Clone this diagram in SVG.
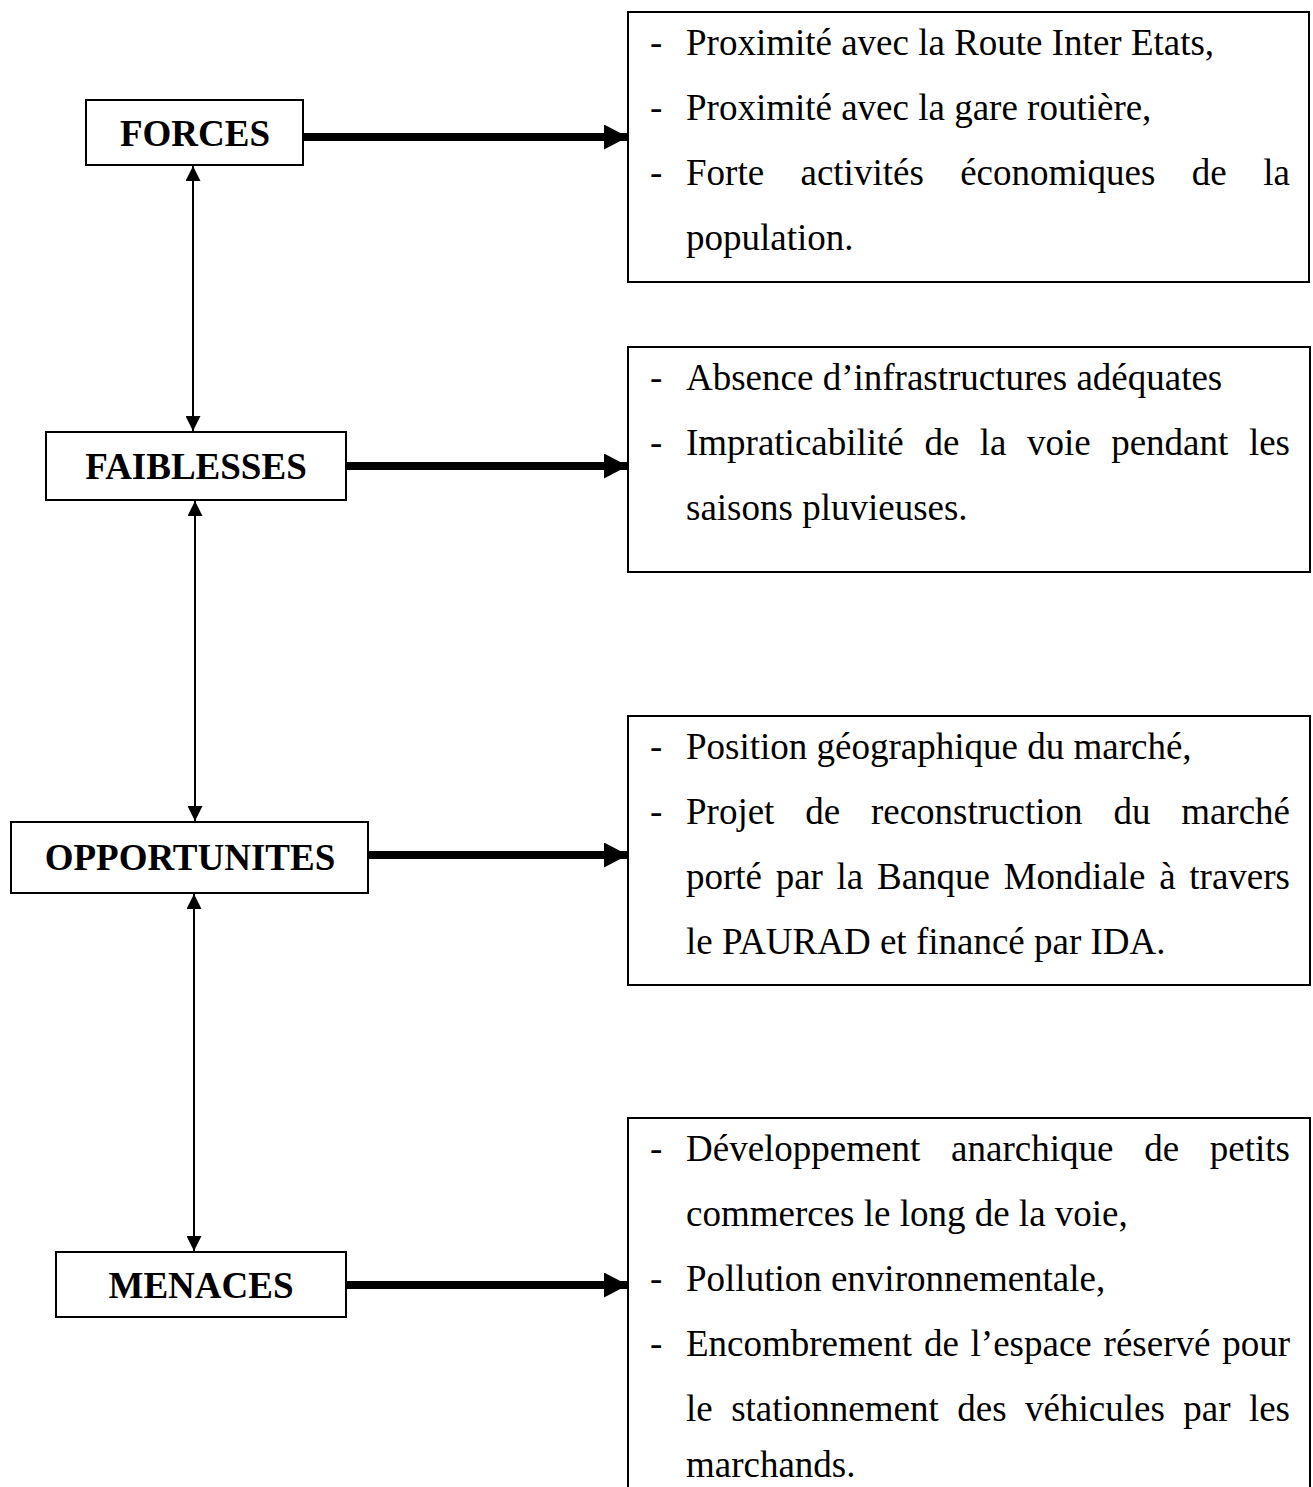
<svg xmlns="http://www.w3.org/2000/svg" width="1313" height="1487" viewBox="0 0 1313 1487">
<defs>
<style>
.lbl{font-family:"Liberation Serif","Times New Roman",serif;font-weight:bold;font-size:37px;fill:#000;text-anchor:middle}
.txt{font-family:"Liberation Serif","Times New Roman",serif;font-size:37px;fill:#000}
.box{fill:#fff;stroke:#000;stroke-width:2}
.thick{stroke:#000;stroke-width:8;fill:none}
.thin{stroke:#000;stroke-width:2;fill:none}
</style>
<marker id="big" viewBox="0 0 24 25" refX="24" refY="12.5" markerWidth="24" markerHeight="25" markerUnits="userSpaceOnUse" orient="auto">
<path d="M0,0 L24,12.5 L0,25 Z" fill="#000"/>
</marker>
<marker id="small" viewBox="0 0 15 15" refX="15" refY="7.5" markerWidth="15" markerHeight="15" markerUnits="userSpaceOnUse" orient="auto-start-reverse">
<path d="M0,0 L15,7.5 L0,15 Z" fill="#000"/>
</marker>
</defs>
<rect width="1313" height="1487" fill="#fff"/>

<g id="connectors">
<line class="thick" x1="303" y1="137" x2="628" y2="137" marker-end="url(#big)"/>
<line class="thick" x1="346" y1="466" x2="628" y2="466" marker-end="url(#big)"/>
<line class="thick" x1="368" y1="855" x2="628" y2="855" marker-end="url(#big)"/>
<line class="thick" x1="346" y1="1285" x2="628" y2="1285" marker-end="url(#big)"/>
<line class="thin" x1="193" y1="166" x2="193" y2="431" marker-start="url(#small)" marker-end="url(#small)"/>
<line class="thin" x1="195" y1="501" x2="195" y2="821" marker-start="url(#small)" marker-end="url(#small)"/>
<line class="thin" x1="194" y1="894" x2="194" y2="1251" marker-start="url(#small)" marker-end="url(#small)"/>
</g>

<g id="forces">
<rect class="box" x="86" y="100" width="217" height="65"/>
<text class="lbl" x="195" y="146">FORCES</text>
</g>
<g id="faiblesses">
<rect class="box" x="46" y="432" width="300" height="68"/>
<text class="lbl" x="196" y="479">FAIBLESSES</text>
</g>
<g id="opportunites">
<rect class="box" x="11" y="822" width="357" height="71"/>
<text class="lbl" x="190" y="870">OPPORTUNITES</text>
</g>
<g id="menaces">
<rect class="box" x="56" y="1252" width="290" height="65"/>
<text class="lbl" x="201" y="1298">MENACES</text>
</g>

<g id="forces-details">
<rect class="box" x="628" y="12" width="681" height="270"/>
<text class="txt"><tspan x="650" y="55">-</tspan><tspan x="686" y="55">Proximité avec la Route Inter Etats,</tspan></text>
<text class="txt"><tspan x="650" y="120">-</tspan><tspan x="686" y="120">Proximité avec la gare routière,</tspan></text>
<text class="txt"><tspan x="650" y="185">-</tspan><tspan x="686" y="185">Forte</tspan><tspan x="800.5" y="185">activités</tspan><tspan x="960.2" y="185">économiques</tspan><tspan x="1191.8" y="185">de</tspan><tspan x="1290" y="185" text-anchor="end">la</tspan></text>
<text class="txt" x="686" y="250">population.</text>
</g>

<g id="faiblesses-details">
<rect class="box" x="628" y="347" width="682" height="225"/>
<text class="txt"><tspan x="650" y="390">-</tspan><tspan x="686" y="390">Absence d’infrastructures adéquates</tspan></text>
<text class="txt"><tspan x="650" y="455">-</tspan><tspan x="686" y="455">Impraticabilité</tspan><tspan x="924.4" y="455">de</tspan><tspan x="979.8" y="455">la</tspan><tspan x="1027" y="455">voie</tspan><tspan x="1111.2" y="455">pendant</tspan><tspan x="1290" y="455" text-anchor="end">les</tspan></text>
<text class="txt" x="686" y="520">saisons pluvieuses.</text>
</g>

<g id="opportunites-details">
<rect class="box" x="628" y="716" width="682" height="269"/>
<text class="txt"><tspan x="650" y="759">-</tspan><tspan x="686" y="759">Position géographique du marché,</tspan></text>
<text class="txt"><tspan x="650" y="824">-</tspan><tspan x="686" y="824">Projet</tspan><tspan x="805.2" y="824">de</tspan><tspan x="870.9" y="824">reconstruction</tspan><tspan x="1113.4" y="824">du</tspan><tspan x="1290" y="824" text-anchor="end">marché</tspan></text>
<text class="txt"><tspan x="686" y="889">porté</tspan><tspan x="775.7" y="889">par</tspan><tspan x="836.6" y="889">la</tspan><tspan x="877" y="889">Banque</tspan><tspan x="1003.7" y="889">Mondiale</tspan><tspan x="1159.2" y="889">à</tspan><tspan x="1290" y="889" text-anchor="end">travers</tspan></text>
<text class="txt" x="686" y="954">le PAURAD et financé par IDA.</text>
</g>

<g id="menaces-details">
<path class="box" d="M628,1488 L628,1118 L1310,1118 L1310,1488"/>
<text class="txt"><tspan x="650" y="1161">-</tspan><tspan x="686" y="1161">Développement</tspan><tspan x="951.1" y="1161">anarchique</tspan><tspan x="1144.2" y="1161">de</tspan><tspan x="1290" y="1161" text-anchor="end">petits</tspan></text>
<text class="txt" x="686" y="1226">commerces le long de la voie,</text>
<text class="txt"><tspan x="650" y="1291">-</tspan><tspan x="686" y="1291">Pollution environnementale,</tspan></text>
<text class="txt"><tspan x="650" y="1356">-</tspan><tspan x="686" y="1356">Encombrement</tspan><tspan x="923.9" y="1356">de</tspan><tspan x="970.6" y="1356">l’espace</tspan><tspan x="1103.6" y="1356">réservé</tspan><tspan x="1290" y="1356" text-anchor="end">pour</tspan></text>
<text class="txt"><tspan x="686" y="1421">le</tspan><tspan x="731.2" y="1421">stationnement</tspan><tspan x="957.3" y="1421">des</tspan><tspan x="1025.1" y="1421">véhicules</tspan><tspan x="1183.3" y="1421">par</tspan><tspan x="1290" y="1421" text-anchor="end">les</tspan></text>
<text class="txt" x="686" y="1477">marchands.</text>
</g>
</svg>
